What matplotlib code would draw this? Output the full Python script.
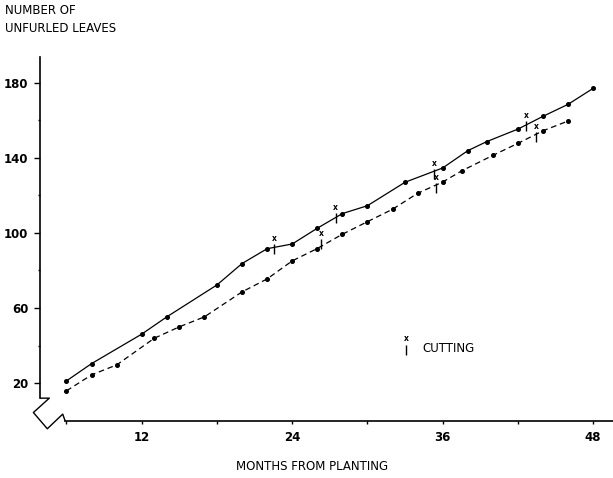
"""Unfurled leaves vs months from planting (two treatments, cutting marks)."""
import matplotlib
matplotlib.use("Agg")
import matplotlib.pyplot as plt
from matplotlib.ticker import FixedLocator

plt.rcParams["font.family"] = ["DejaVu Sans"]

# --- data ---
solid_months = [6, 8, 12, 14, 18, 20, 22, 24, 26, 28, 30, 33, 36, 38, 39.5, 42, 44, 46, 48]
solid_leaves = [21.2, 30.4, 46.1, 55.3, 72.3, 83.7, 91.6, 94.1, 102.5, 110.3, 114.5,
                127.0, 134.6, 143.8, 148.6, 155.3, 162.1, 168.5, 177.0]

dashed_months = [6, 8, 10, 13, 15, 17, 20, 22, 24, 26, 28, 30, 32, 34, 36, 37.5,
                 40, 42, 44, 46]
dashed_leaves = [15.9, 24.4, 29.7, 43.9, 50.0, 55.3, 68.6, 75.5, 85.1, 91.7, 99.3,
                 106.0, 112.6, 121.1, 127.1, 133.0, 141.3, 147.7, 154.4, 159.6]

# cutting events (month, leaves at mark)
solid_cut_months = [22.55, 27.46, 35.3, 42.67]
solid_cut_leaves = [91.5, 107.7, 131.4, 156.8]
dashed_cut_months = [26.32, 35.5, 43.47]
dashed_cut_leaves = [93.9, 123.7, 151.2]

legend_month, legend_leaves = 33.1, 37.8

# axis break outline (months, leaves)
break_x = [3.95, 4.63, 3.36, 4.47, 5.70, 5.88]
break_y = [12.0, 12.0, 4.35, -4.3, 3.5, 0.1]

FS = 8.5
fig = plt.figure(figsize=(6.13, 4.78), dpi=100)
ax = fig.add_axes([0.0653, 0.1199, 0.9347, 0.7609])
ax.set_xlim(3.89, 49.58)
ax.set_ylim(0, 193.7)

for s in ["top", "right"]:
    ax.spines[s].set_visible(False)
ax.spines["left"].set_bounds(12.0, 193.7)
ax.spines["bottom"].set_bounds(5.88, 49.58)
for s in ["left", "bottom"]:
    ax.spines[s].set_linewidth(1.2)

ax.plot(break_x, break_y, color="black", lw=1.0, clip_on=False)

# series
ax.plot(solid_months, solid_leaves, color="black", lw=0.9, marker="o",
        markersize=2.6, linestyle="-")
ax.plot(dashed_months, dashed_leaves, color="black", lw=0.9, marker="o",
        markersize=2.6, linestyle=(0, (4.5, 3)))


def cut_marks(xs, ys):
    ax.scatter(xs, ys, marker="|", s=60, color="black", linewidths=1.0, zorder=3)
    for x, y in zip(xs, ys):
        ax.annotate("x", (x, y), xytext=(0, 4.5), textcoords="offset points",
                    ha="center", va="bottom", fontsize=5.5, fontweight="bold")


cut_marks(solid_cut_months, solid_cut_leaves)
cut_marks(dashed_cut_months, dashed_cut_leaves)
cut_marks([legend_month], [legend_leaves])
ax.text(legend_month + 1.25, legend_leaves + 0.6, "CUTTING", fontsize=FS,
        va="center", ha="left")

# ticks
ax.yaxis.set_major_locator(FixedLocator([20, 60, 100, 140, 180]))
ax.yaxis.set_minor_locator(FixedLocator([40, 80, 120, 160]))
ax.xaxis.set_major_locator(FixedLocator([12, 24, 36, 48]))
ax.xaxis.set_minor_locator(FixedLocator([6, 18, 30, 42]))
ax.tick_params(axis="y", which="major", direction="out", length=4.5, width=1,
               pad=4, labelsize=FS)
ax.tick_params(axis="y", which="minor", direction="out", length=1.5, width=1)
ax.tick_params(axis="x", which="both", direction="out", length=2.5, width=1,
               pad=5, labelsize=FS)
for lab in ax.get_xticklabels() + ax.get_yticklabels():
    lab.set_fontweight("bold")

# titles
fig.text(5 / 613, 1 - 11 / 478, "NUMBER OF", fontsize=FS, va="center", ha="left")
fig.text(5 / 613, 1 - 28 / 478, "UNFURLED LEAVES", fontsize=FS, va="center",
         ha="left")
fig.text(312 / 613, 1 - 466 / 478, "MONTHS FROM PLANTING", fontsize=FS,
         va="center", ha="center")

fig.savefig("out.png", dpi=100)
